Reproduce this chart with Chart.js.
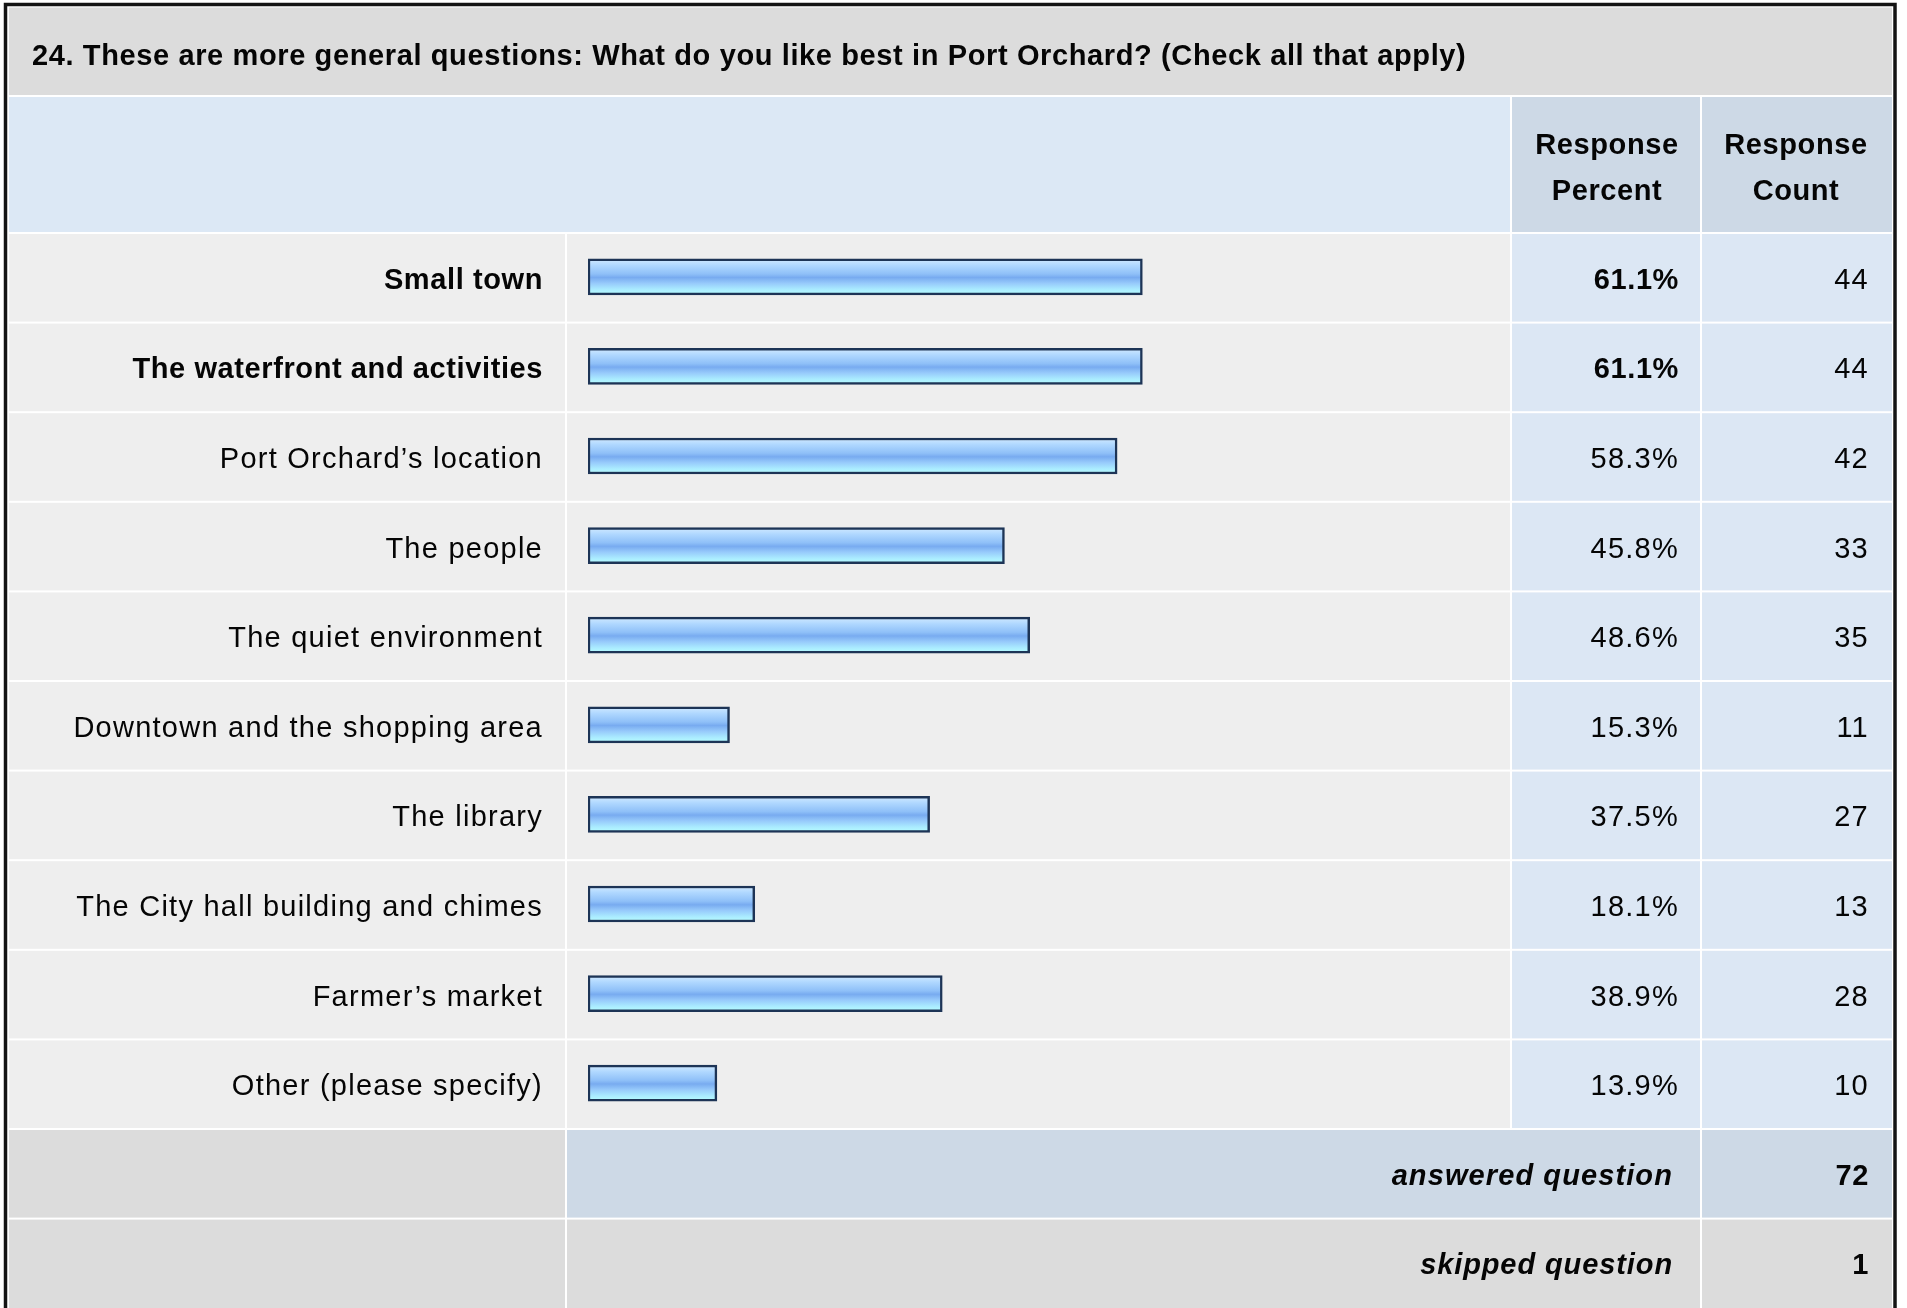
<!DOCTYPE html>
<html>
<head>
<meta charset="utf-8">
<script src="https://cdn.jsdelivr.net/npm/chart.js@4/dist/chart.umd.min.js"></script>
<style>
  html, body { margin: 0; padding: 0; background: #fff; }
  #wrap { width: 1907px; height: 1308px; position: relative; }
</style>
</head>
<body>
<div id="wrap"><canvas id="surveyChart"></canvas></div>
<script>
const questionTitle = '24. These are more general questions: What do you like best in Port Orchard? (Check all that apply)';
const answerChoices = [
  'Small town',
  'The waterfront and activities',
  'Port Orchard\u2019s location',
  'The people',
  'The quiet environment',
  'Downtown and the shopping area',
  'The library',
  'The City hall building and chimes',
  'Farmer\u2019s market',
  'Other (please specify)'
];
const responsePercent = [61.1, 61.1, 58.3, 45.8, 48.6, 15.3, 37.5, 18.1, 38.9, 13.9];
const responseCount = [44, 44, 42, 33, 35, 11, 27, 13, 28, 10];
const headerPercent = ['Response', 'Percent'];
const headerCount = ['Response', 'Count'];
const answeredQuestion = 72;
const skippedQuestion = 1;
const boldRows = [0, 1];

const FONT = '"Liberation Sans", Arial, sans-serif';
const colors = {
  frame: '#141414',
  title: '#dcdcdc',
  headLeft: '#dce8f5',
  headCol: '#cdd9e6',
  row: '#eeeeee',
  rowCol: '#dce7f4',
  text: '#050505'
};

// table columns (x edges)
const col = { left: 9, labelEnd: 565, barEnd: 1510, pctEnd: 1700, right: 1892 };

function txt(ctx, s, x, y, opts) {
  ctx.save();
  ctx.font = (opts.italic ? 'italic ' : '') + (opts.bold ? 'bold ' : '') + (opts.size || 29) + 'px ' + FONT;
  ctx.fillStyle = colors.text;
  ctx.textAlign = opts.align || 'left';
  ctx.textBaseline = 'alphabetic';
  if ('letterSpacing' in ctx) ctx.letterSpacing = (opts.spacing != null ? opts.spacing : (opts.bold ? 0.6 : 1.25)) + 'px';
  ctx.fillText(s, x, y);
  ctx.restore();
}

const tablePlugin = {
  id: 'tablePlugin',
  beforeDraw(chart) {
    const ctx = chart.ctx;
    const y = chart.scales.y;
    const pitch = (chart.chartArea.bottom - chart.chartArea.top) / answerChoices.length;
    const tableTop = chart.chartArea.top;
    ctx.save();
    ctx.fillStyle = '#fff';
    ctx.fillRect(0, 0, chart.width, chart.height);

    // title band + header band
    ctx.fillStyle = colors.title;
    ctx.fillRect(col.left, 7.5, col.right - col.left, 87.5);
    ctx.fillStyle = colors.headLeft;
    ctx.fillRect(col.left, 97, col.barEnd - col.left, tableTop - 97);
    ctx.fillStyle = colors.headCol;
    ctx.fillRect(col.barEnd + 2, 97, col.pctEnd - col.barEnd - 2, tableTop - 97);
    ctx.fillRect(col.pctEnd + 2, 97, col.right - col.pctEnd - 2, tableTop - 97);

    // data rows
    answerChoices.forEach((_, i) => {
      const cy = y.getPixelForValue(i);
      const top = cy - pitch / 2 + 2, h = pitch - 2;
      ctx.fillStyle = colors.row;
      ctx.fillRect(col.left, top, col.labelEnd - col.left, h);
      ctx.fillRect(col.labelEnd + 2, top, col.barEnd - col.labelEnd - 2, h);
      ctx.fillStyle = colors.rowCol;
      ctx.fillRect(col.barEnd + 2, top, col.pctEnd - col.barEnd - 2, h);
      ctx.fillRect(col.pctEnd + 2, top, col.right - col.pctEnd - 2, h);
    });

    // summary rows
    const aTop = chart.chartArea.bottom + 2;
    ctx.fillStyle = colors.title;
    ctx.fillRect(col.left, aTop, col.labelEnd - col.left, pitch - 2);
    ctx.fillStyle = colors.headCol;
    ctx.fillRect(col.labelEnd + 2, aTop, col.pctEnd - col.labelEnd - 2, pitch - 2);
    ctx.fillRect(col.pctEnd + 2, aTop, col.right - col.pctEnd - 2, pitch - 2);
    const sTop = aTop + pitch;
    ctx.fillStyle = colors.title;
    ctx.fillRect(col.left, sTop, col.labelEnd - col.left, chart.height - sTop);
    ctx.fillRect(col.labelEnd + 2, sTop, col.pctEnd - col.labelEnd - 2, chart.height - sTop);
    ctx.fillRect(col.pctEnd + 2, sTop, col.right - col.pctEnd - 2, chart.height - sTop);

    // outer frame
    ctx.strokeStyle = colors.frame;
    ctx.lineWidth = 3.5;
    ctx.strokeRect(5.5, 4.5, 1889.5, chart.height + 20);
    ctx.restore();
  },
  afterDatasetsDraw(chart) {
    const ctx = chart.ctx;
    const y = chart.scales.y;
    const pitch = (chart.chartArea.bottom - chart.chartArea.top) / answerChoices.length;
    const pctX = (col.barEnd + col.pctEnd) / 2 + 2;
    const cntX = (col.pctEnd + col.right) / 2;

    txt(ctx, questionTitle, 32, 65, { bold: true, size: 29, spacing: 0.62 });
    txt(ctx, headerPercent[0], pctX, 154, { bold: true, align: 'center' });
    txt(ctx, headerPercent[1], pctX, 200, { bold: true, align: 'center' });
    txt(ctx, headerCount[0], cntX, 154, { bold: true, align: 'center' });
    txt(ctx, headerCount[1], cntX, 200, { bold: true, align: 'center' });

    answerChoices.forEach((label, i) => {
      const base = y.getPixelForValue(i) + 12;
      const bold = boldRows.includes(i);
      txt(ctx, label, 543, base, { bold, align: 'right' });
      txt(ctx, responsePercent[i].toFixed(1) + '%', 1679, base, { bold, align: 'right' });
      txt(ctx, String(responseCount[i]), 1869, base, { align: 'right' });
    });

    const aBase = chart.chartArea.bottom + pitch / 2 + 12;
    txt(ctx, 'answered question', 1673, aBase, { bold: true, italic: true, align: 'right', spacing: 1.1 });
    txt(ctx, String(answeredQuestion), 1869, aBase, { bold: true, align: 'right' });
    txt(ctx, 'skipped question', 1673, aBase + pitch, { bold: true, italic: true, align: 'right', spacing: 0.9 });
    txt(ctx, String(skippedQuestion), 1869, aBase + pitch, { bold: true, align: 'right' });
  }
};

function barGradient(context) {
  const chart = context.chart;
  const y = chart.scales.y;
  if (!chart.chartArea || !y || context.type !== 'data') return '#8fc2f7';
  const cy = y.getPixelForValue(context.dataIndex);
  const g = chart.ctx.createLinearGradient(0, cy - 18, 0, cy + 18);
  g.addColorStop(0, '#d2eaff');
  g.addColorStop(0.18, '#b0d8ff');
  g.addColorStop(0.42, '#8fc0f8');
  g.addColorStop(0.52, '#78abf0');
  g.addColorStop(0.68, '#97cafb');
  g.addColorStop(0.85, '#aaebff');
  g.addColorStop(1, '#b8ffff');
  return g;
}

new Chart(document.getElementById('surveyChart').getContext('2d'), {
  type: 'bar',
  data: {
    labels: answerChoices,
    datasets: [{
      data: responsePercent,
      base: -0.4,
      backgroundColor: barGradient,
      borderColor: '#1d3456',
      borderWidth: 2.5,
      borderSkipped: false,
      barThickness: 36
    }]
  },
  options: {
    indexAxis: 'y',
    responsive: true,
    maintainAspectRatio: false,
    animation: false,
    layout: { padding: { left: 588, right: 414, top: 232, bottom: 180 } },
    plugins: { legend: { display: false }, tooltip: { enabled: false } },
    scales: {
      x: { display: false, min: -0.4, max: 100 },
      y: { display: false }
    }
  },
  plugins: [tablePlugin]
});
</script>
</body>
</html>
